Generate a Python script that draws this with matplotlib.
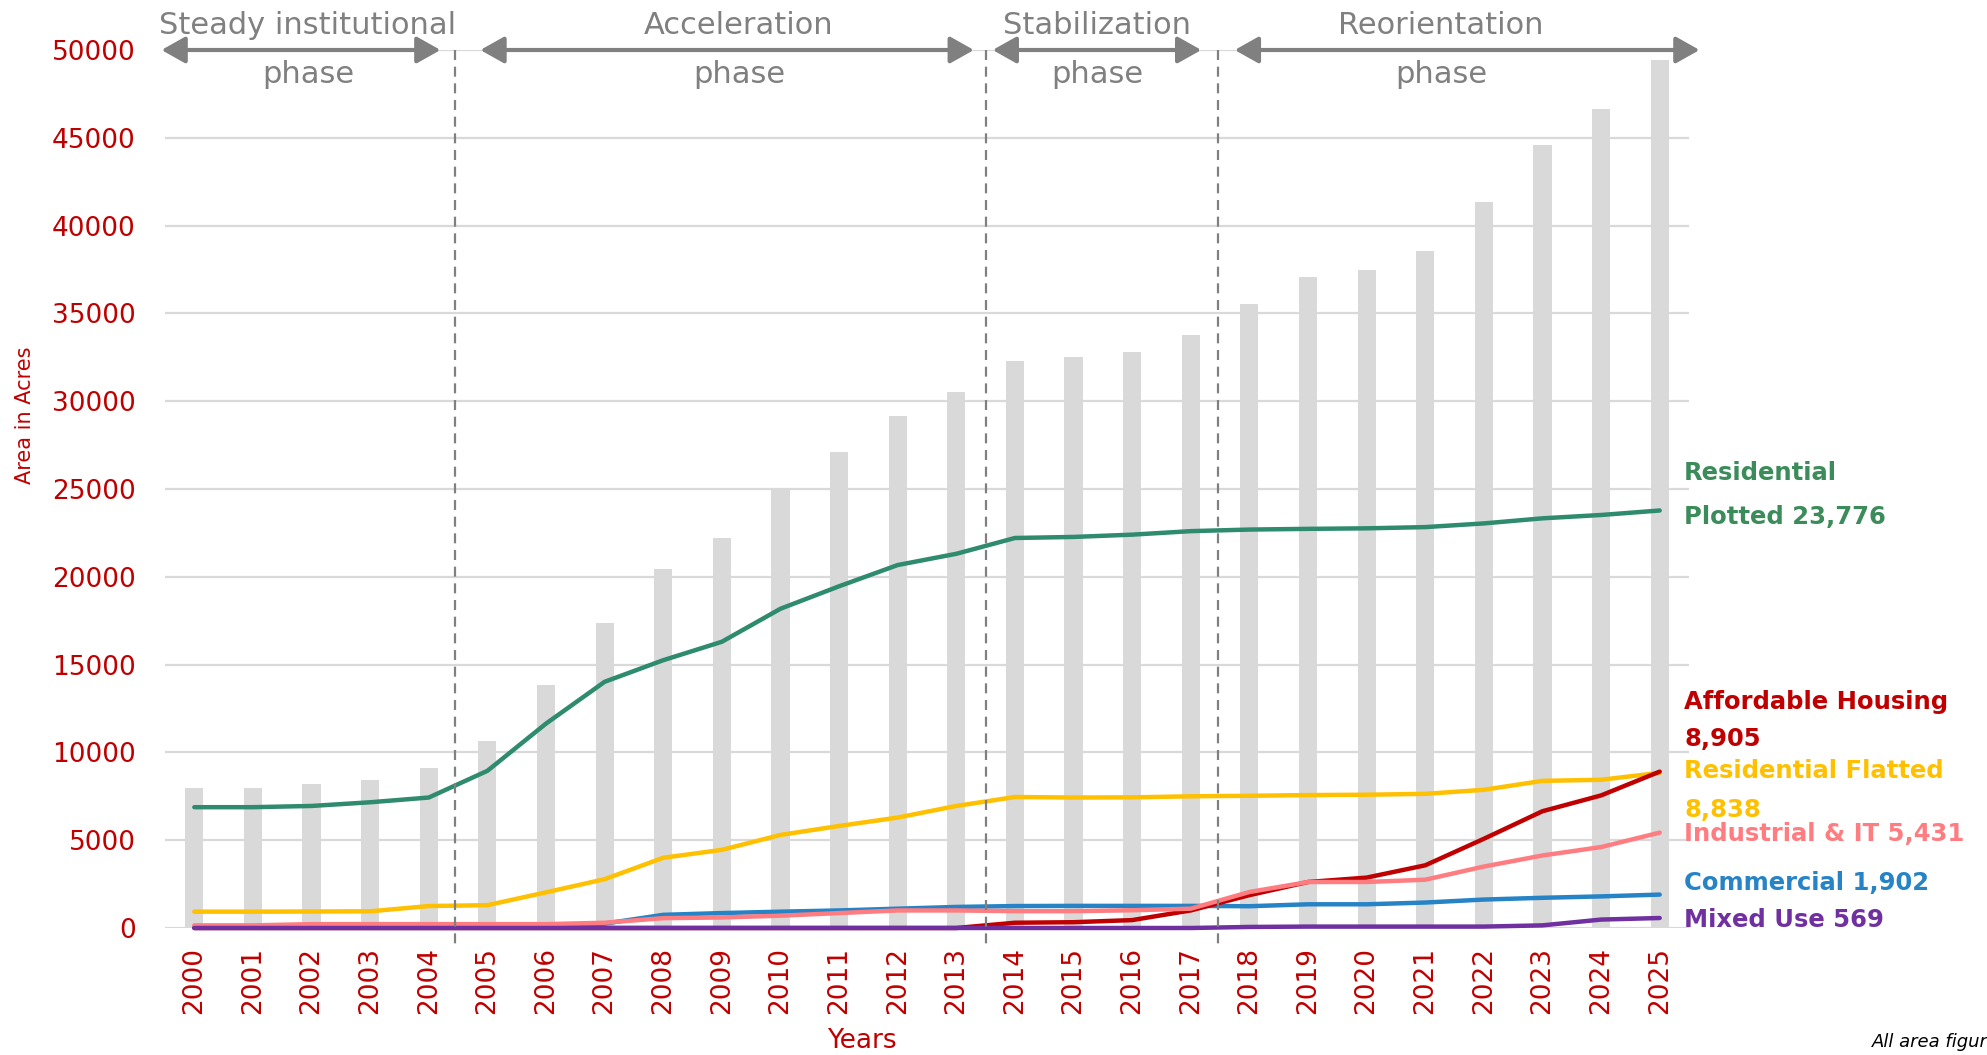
import matplotlib
matplotlib.use("Agg")
import matplotlib.pyplot as plt
import numpy as np

# ---------------- data ----------------
years = list(range(2000, 2026))
year_labels = [str(y) for y in years]

total_area = [8000, 8000, 8200, 8400, 9100, 10650, 13850, 17350, 20450, 22230,
              25000, 27130, 29180, 30550, 32300, 32490, 32780, 33770, 35520, 37060,
              37460, 38540, 41360, 44600, 46630, 49450]

residential_plotted = [6880, 6880, 6950, 7160, 7430, 8950, 11640, 14020, 15250, 16300,
                       18180, 19460, 20670, 21310, 22210, 22270, 22400, 22600, 22690, 22730,
                       22760, 22830, 23040, 23330, 23520, 23776]

residential_flatted = [930, 930, 940, 950, 1250, 1300, 2030, 2780, 4000, 4450,
                       5300, 5810, 6290, 6950, 7460, 7430, 7440, 7500, 7530, 7570,
                       7590, 7640, 7870, 8380, 8440, 8838]

commercial = [50, 50, 50, 50, 50, 50, 50, 250, 750, 850,
              930, 1000, 1100, 1200, 1250, 1260, 1260, 1260, 1240, 1350,
              1350, 1450, 1620, 1720, 1800, 1902]

affordable_housing = [0, 0, 0, 0, 0, 0, 0, 0, 0, 0,
                      0, 0, 0, 0, 300, 330, 450, 1000, 1870, 2620,
                      2870, 3570, 5080, 6650, 7550, 8905]

industrial_it = [150, 150, 220, 220, 220, 220, 220, 300, 560, 600,
                 700, 850, 1000, 1000, 960, 960, 1010, 1100, 2050, 2620,
                 2620, 2750, 3500, 4130, 4610, 5431]

mixed_use = [0, 0, 0, 0, 0, 0, 0, 0, 0, 0,
             0, 0, 0, 0, 0, 0, 0, 0, 60, 80,
             80, 80, 80, 150, 480, 569]

series_names = ["Residential Plotted", "Residential Flatted", "Commercial",
                "Affordable Housing", "Industrial & IT", "Mixed Use"]

end_labels = [["Residential", "Plotted 23,776"],
              ["Affordable Housing", "8,905"],
              ["Residential Flatted", "8,838"],
              ["Industrial & IT 5,431"],
              ["Commercial 1,902"],
              ["Mixed Use 569"]]

phase_names = ["Steady institutional", "Acceleration", "Stabilization", "Reorientation"]
phase_bounds = [4.45, 13.5, 17.47]   # category positions of the dashed separators
yticks = list(range(0, 50001, 5000))

# ---------------- style ----------------
RED = "#C00000"
GREEN = "#2E8B6E"
GREEN_T = "#3B8C5A"
YELLOW = "#FFC000"
BLUE = "#2683C6"
PINK = "#FF7C80"
PURPLE = "#7030A0"
BAR = "#D9D9D9"
GRAY = "#808080"

W, H = 1987, 1055
fig = plt.figure(figsize=(W / 100, H / 100), dpi=100)
L, R, T, B = 165, 1689, 50, 928
ax = fig.add_axes([L / W, 1 - B / H, (R - L) / W, (B - T) / H])

x = np.arange(len(years))
ax.set_xlim(-0.5, 25.5)
ax.set_ylim(0, 50000)

for yv in yticks:
    ax.axhline(yv, color=BAR, lw=1.6, zorder=0.5)

ax.bar(x, total_area, width=0.31, color=BAR, zorder=1)

line_data = [(residential_plotted, GREEN), (residential_flatted, YELLOW),
             (commercial, BLUE), (affordable_housing, RED),
             (industrial_it, PINK), (mixed_use, PURPLE)]
for vals, col in line_data:
    ax.plot(x, vals, color=col, lw=3.2, solid_capstyle="round",
            solid_joinstyle="round", zorder=3, clip_on=False)

for s in ax.spines.values():
    s.set_visible(False)
ax.set_yticks(yticks)
ax.set_yticklabels([str(v) for v in yticks])
ax.set_xticks(x)
ax.set_xticklabels(year_labels, rotation=90)
ax.tick_params(axis="y", length=0, pad=21, labelsize=19, labelcolor=RED)
ax.tick_params(axis="x", length=0, pad=14, labelsize=19, labelcolor=RED)

# phase separators
for xb in phase_bounds:
    ax.plot([xb, xb], [50000, -1150], color=GRAY, lw=1.6, ls=(0, (4.5, 3)),
            zorder=4, clip_on=False)

# phase arrows
arrow_spans = [(-0.56, 4.2), (4.88, 13.3), (13.62, 17.18), (17.75, 25.68)]
for x0, x1 in arrow_spans:
    ax.annotate("", xy=(x1, 50000), xytext=(x0, 50000),
                arrowprops=dict(arrowstyle="<|-|>,head_length=0.8,head_width=0.45",
                                color=GRAY, lw=3, shrinkA=0, shrinkB=0,
                                mutation_scale=18),
                annotation_clip=False, zorder=5)

phase_cx = [308, 739, 1097, 1441]
for name, cx in zip(phase_names, phase_cx):
    fig.text(cx / W, 1 - 25 / H, name, ha="center", va="center",
             fontsize=22, color=GRAY)
    fig.text(cx / W, 1 - 74 / H, "phase", ha="center", va="center",
             fontsize=22, color=GRAY)

# end labels
label_colors = [GREEN_T, RED, YELLOW, PINK, BLUE, PURPLE]
label_ys = [[473, 517], [702, 739], [771, 810], [834], [883], [920]]
for lines, col, ys in zip(end_labels, label_colors, label_ys):
    for txt, yp in zip(lines, ys):
        fig.text(1684 / W, 1 - yp / H, txt, ha="left", va="center",
                 fontsize=17.5, fontweight="bold", color=col)

# axis titles
fig.text(25 / W, 1 - 415 / H, "Area in Acres", rotation=90, ha="center",
         va="center", fontsize=15, color=RED)
fig.text(862 / W, 1 - 1041 / H, "Years", ha="center", va="center",
         fontsize=19, color=RED)
fig.text(1872 / W, 1 - 1042 / H, "All area figures are in acres", ha="left",
         va="center", fontsize=13, style="italic", color="black")

fig.savefig("out.png", dpi=100)
